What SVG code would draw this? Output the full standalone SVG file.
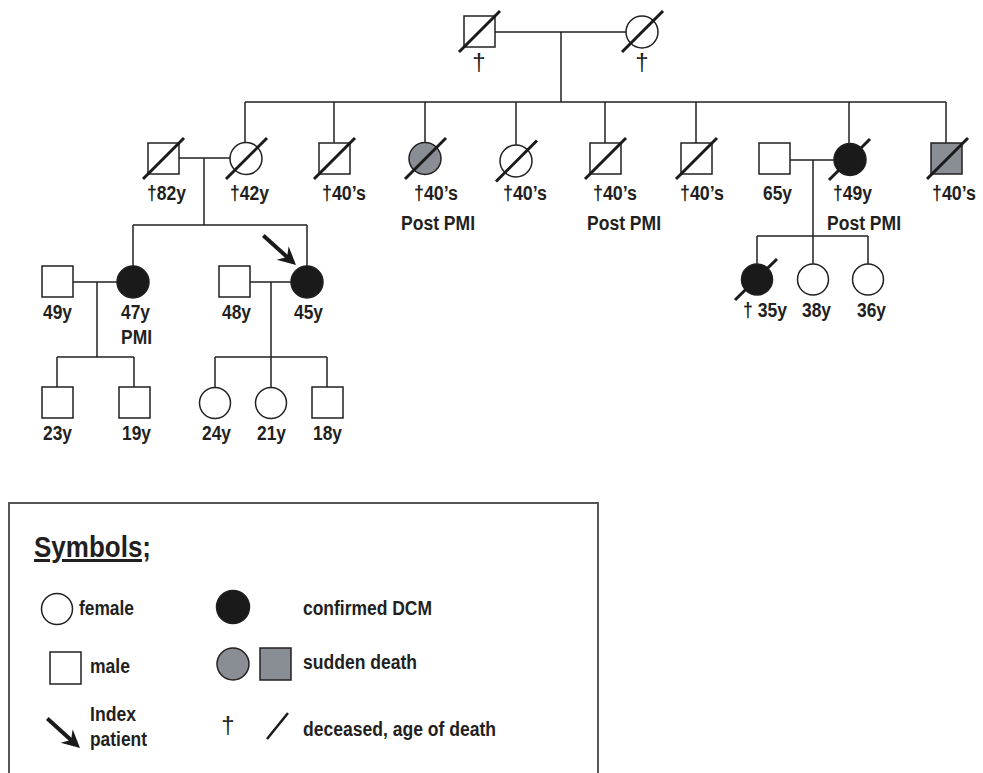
<svg xmlns="http://www.w3.org/2000/svg" width="983" height="773" viewBox="0 0 983 773">
<style>
.ln{stroke:#231f20;stroke-width:1.5;fill:none}
.sym{stroke:#231f20;stroke-width:1.5;fill:#fff}
.blk{stroke:#231f20;stroke-width:1.5;fill:#1a1a1a}
.gry{stroke:#231f20;stroke-width:1.5;fill:#898e94}
.sl{stroke:#1a1a1a;stroke-width:3;stroke-linecap:butt}
.t{font-family:"Liberation Sans",Arial,sans-serif;font-weight:bold;font-size:20px;fill:#231f20}
.dg{font-family:"Liberation Sans",Arial,sans-serif;font-size:24px;fill:#231f20;text-anchor:middle}
</style>
<defs>
<g id="arrow">
<line x1="-44" y1="0" x2="-11" y2="0" stroke="#1a1a1a" stroke-width="4"/>
<polygon points="0,0 -18,-9 -12,0 -18,9" fill="#1a1a1a"/>
</g>
</defs>
<rect width="983" height="773" fill="#fff"/>

<g id="connectors">
<line class="ln" x1="495" y1="32" x2="626" y2="32"/>
<line class="ln" x1="561" y1="32" x2="561" y2="102"/>
<line class="ln" x1="245" y1="102" x2="946" y2="102"/>
<line class="ln" x1="245" y1="102" x2="245" y2="142.5"/>
<line class="ln" x1="334" y1="102" x2="334" y2="143"/>
<line class="ln" x1="425" y1="102" x2="425" y2="142.5"/>
<line class="ln" x1="516" y1="102" x2="516" y2="145"/>
<line class="ln" x1="605" y1="102" x2="605" y2="143"/>
<line class="ln" x1="696" y1="102" x2="696" y2="143"/>
<line class="ln" x1="849" y1="102" x2="849" y2="143.5"/>
<line class="ln" x1="946" y1="102" x2="946" y2="143"/>
<line class="ln" x1="179" y1="158" x2="230" y2="158"/>
<line class="ln" x1="204" y1="158" x2="204" y2="225"/>
<line class="ln" x1="133" y1="225" x2="307" y2="225"/>
<line class="ln" x1="133" y1="225" x2="133" y2="266"/>
<line class="ln" x1="307" y1="225" x2="307" y2="266"/>
<line class="ln" x1="790" y1="160" x2="834" y2="160"/>
<line class="ln" x1="813" y1="160" x2="813" y2="236"/>
<line class="ln" x1="757" y1="236" x2="868" y2="236"/>
<line class="ln" x1="757" y1="236" x2="757" y2="264"/>
<line class="ln" x1="813" y1="236" x2="813" y2="264"/>
<line class="ln" x1="868" y1="236" x2="868" y2="264"/>
<line class="ln" x1="73" y1="282" x2="117" y2="282"/>
<line class="ln" x1="97" y1="282" x2="97" y2="357"/>
<line class="ln" x1="57" y1="357" x2="134" y2="357"/>
<line class="ln" x1="57" y1="357" x2="57" y2="387"/>
<line class="ln" x1="134" y1="357" x2="134" y2="387"/>
<line class="ln" x1="249" y1="282" x2="291" y2="282"/>
<line class="ln" x1="271" y1="282" x2="271" y2="357"/>
<line class="ln" x1="215" y1="357" x2="327" y2="357"/>
<line class="ln" x1="215" y1="357" x2="215" y2="387.5"/>
<line class="ln" x1="271" y1="357" x2="271" y2="387.5"/>
<line class="ln" x1="327" y1="357" x2="327" y2="387"/>
<use href="#arrow" transform="translate(296,265) rotate(42)"/>
</g>

<g id="g1-father">
<rect class="sym" x="464" y="16" width="31" height="31"/>
<line class="sl" x1="459" y1="52" x2="500" y2="11"/>
<text class="dg" x="479" y="70">†</text>
</g>
<g id="g1-mother">
<circle class="sym" cx="642" cy="32" r="16"/>
<line class="sl" x1="622" y1="52" x2="663" y2="11"/>
<text class="dg" x="642" y="70">†</text>
</g>

<g id="g2-m82">
<rect class="sym" x="148" y="143" width="31" height="31"/>
<line class="sl" x1="143" y1="179" x2="184" y2="138"/>
<text class="t" x="147" y="200" textLength="39" lengthAdjust="spacingAndGlyphs">†82y</text>
</g>
<g id="g2-f42">
<circle class="sym" cx="246" cy="158.5" r="16"/>
<line class="sl" x1="226" y1="179" x2="267" y2="138"/>
<text class="t" x="230" y="200" textLength="39" lengthAdjust="spacingAndGlyphs">†42y</text>
</g>
<g id="g2-m40a">
<rect class="sym" x="319" y="143" width="31" height="31"/>
<line class="sl" x1="314" y1="179" x2="355" y2="138"/>
<text class="t" x="322" y="200" textLength="44" lengthAdjust="spacingAndGlyphs">†40’s</text>
</g>
<g id="g2-f40gray">
<circle class="gry" cx="425" cy="158.5" r="16"/>
<line class="sl" x1="405" y1="179" x2="446" y2="138"/>
<text class="t" x="414" y="200" textLength="44" lengthAdjust="spacingAndGlyphs">†40’s</text>
<text class="t" x="401" y="230" textLength="74" lengthAdjust="spacingAndGlyphs">Post PMI</text>
</g>
<g id="g2-f40">
<circle class="sym" cx="516" cy="161" r="16"/>
<line class="sl" x1="496" y1="181.5" x2="537" y2="140.5"/>
<text class="t" x="503" y="200" textLength="44" lengthAdjust="spacingAndGlyphs">†40’s</text>
</g>
<g id="g2-m40b">
<rect class="sym" x="590" y="143" width="31" height="31"/>
<line class="sl" x1="585" y1="179" x2="626" y2="138"/>
<text class="t" x="593" y="200" textLength="44" lengthAdjust="spacingAndGlyphs">†40’s</text>
<text class="t" x="587" y="230" textLength="74" lengthAdjust="spacingAndGlyphs">Post PMI</text>
</g>
<g id="g2-m40c">
<rect class="sym" x="681" y="143" width="31" height="31"/>
<line class="sl" x1="676" y1="179" x2="717" y2="138"/>
<text class="t" x="680" y="200" textLength="44" lengthAdjust="spacingAndGlyphs">†40’s</text>
</g>
<g id="g2-m65">
<rect class="sym" x="759" y="143" width="31" height="31"/>
<text class="t" x="763" y="200" textLength="29" lengthAdjust="spacingAndGlyphs">65y</text>
</g>
<g id="g2-f49">
<circle class="blk" cx="850" cy="159.5" r="16"/>
<line class="sl" x1="829" y1="180" x2="870" y2="139"/>
<text class="t" x="833" y="200" textLength="39" lengthAdjust="spacingAndGlyphs">†49y</text>
<text class="t" x="827" y="230" textLength="74" lengthAdjust="spacingAndGlyphs">Post PMI</text>
</g>
<g id="g2-m40gray">
<rect class="gry" x="931" y="143" width="31" height="31"/>
<line class="sl" x1="927" y1="179" x2="968" y2="138"/>
<text class="t" x="932" y="200" textLength="44" lengthAdjust="spacingAndGlyphs">†40’s</text>
</g>

<g id="g3-m49">
<rect class="sym" x="42" y="266" width="31" height="31"/>
<text class="t" x="43" y="319" textLength="29" lengthAdjust="spacingAndGlyphs">49y</text>
</g>
<g id="g3-f47">
<circle class="blk" cx="133" cy="282" r="16"/>
<text class="t" x="121" y="319" textLength="29" lengthAdjust="spacingAndGlyphs">47y</text>
<text class="t" x="121" y="344" textLength="31" lengthAdjust="spacingAndGlyphs">PMI</text>
</g>
<g id="g3-m48">
<rect class="sym" x="219" y="266" width="31" height="31"/>
<text class="t" x="222" y="319" textLength="29" lengthAdjust="spacingAndGlyphs">48y</text>
</g>
<g id="g3-f45-index">
<circle class="blk" cx="307" cy="282" r="16"/>
<text class="t" x="294" y="319" textLength="29" lengthAdjust="spacingAndGlyphs">45y</text>
</g>
<g id="g3-f35">
<circle class="blk" cx="757" cy="279.5" r="15.5"/>
<line class="sl" x1="735" y1="300" x2="777" y2="259"/>
<text class="t" x="743" y="317" textLength="44" lengthAdjust="spacingAndGlyphs">† 35y</text>
</g>
<g id="g3-f38">
<circle class="sym" cx="813" cy="279.5" r="15.5"/>
<text class="t" x="802" y="317" textLength="29" lengthAdjust="spacingAndGlyphs">38y</text>
</g>
<g id="g3-f36">
<circle class="sym" cx="868" cy="279.5" r="15.5"/>
<text class="t" x="857" y="317" textLength="29" lengthAdjust="spacingAndGlyphs">36y</text>
</g>

<g id="g4-m23">
<rect class="sym" x="42" y="387" width="31" height="31"/>
<text class="t" x="43" y="440" textLength="29" lengthAdjust="spacingAndGlyphs">23y</text>
</g>
<g id="g4-m19">
<rect class="sym" x="119" y="387" width="31" height="31"/>
<text class="t" x="122" y="440" textLength="29" lengthAdjust="spacingAndGlyphs">19y</text>
</g>
<g id="g4-f24">
<circle class="sym" cx="215" cy="403" r="15.5"/>
<text class="t" x="202" y="440" textLength="29" lengthAdjust="spacingAndGlyphs">24y</text>
</g>
<g id="g4-f21">
<circle class="sym" cx="271" cy="403" r="15.5"/>
<text class="t" x="257" y="440" textLength="29" lengthAdjust="spacingAndGlyphs">21y</text>
</g>
<g id="g4-m18">
<rect class="sym" x="312" y="387" width="31" height="31"/>
<text class="t" x="313" y="440" textLength="29" lengthAdjust="spacingAndGlyphs">18y</text>
</g>

<g id="legend">
<rect x="9" y="503" width="589" height="290" fill="none" stroke="#555" stroke-width="2"/>
<text class="t" x="34" y="557" style="font-size:30px;text-decoration:underline" textLength="117" lengthAdjust="spacingAndGlyphs">Symbols;</text>
<circle class="sym" cx="57" cy="609" r="15.5"/>
<text class="t" x="79" y="615" textLength="55" lengthAdjust="spacingAndGlyphs">female</text>
<circle class="blk" cx="233" cy="607" r="16.5" stroke-width="1"/>
<text class="t" x="303" y="615" textLength="129" lengthAdjust="spacingAndGlyphs">confirmed DCM</text>
<rect class="sym" x="50" y="652" width="31" height="32"/>
<text class="t" x="90" y="673" textLength="40" lengthAdjust="spacingAndGlyphs">male</text>
<circle class="gry" cx="233" cy="664" r="16"/>
<rect class="gry" x="260" y="648" width="31" height="32"/>
<text class="t" x="303" y="669" textLength="114" lengthAdjust="spacingAndGlyphs">sudden death</text>
<use href="#arrow" transform="translate(80,748) rotate(42)"/>
<text class="t" x="90" y="721" textLength="46" lengthAdjust="spacingAndGlyphs">Index</text>
<text class="t" x="90" y="746" textLength="57" lengthAdjust="spacingAndGlyphs">patient</text>
<text class="dg" x="228" y="733">†</text>
<line x1="267" y1="739" x2="288" y2="713" stroke="#1a1a1a" stroke-width="2.5"/>
<text class="t" x="303" y="736" textLength="193" lengthAdjust="spacingAndGlyphs">deceased, age of death</text>
</g>
</svg>
